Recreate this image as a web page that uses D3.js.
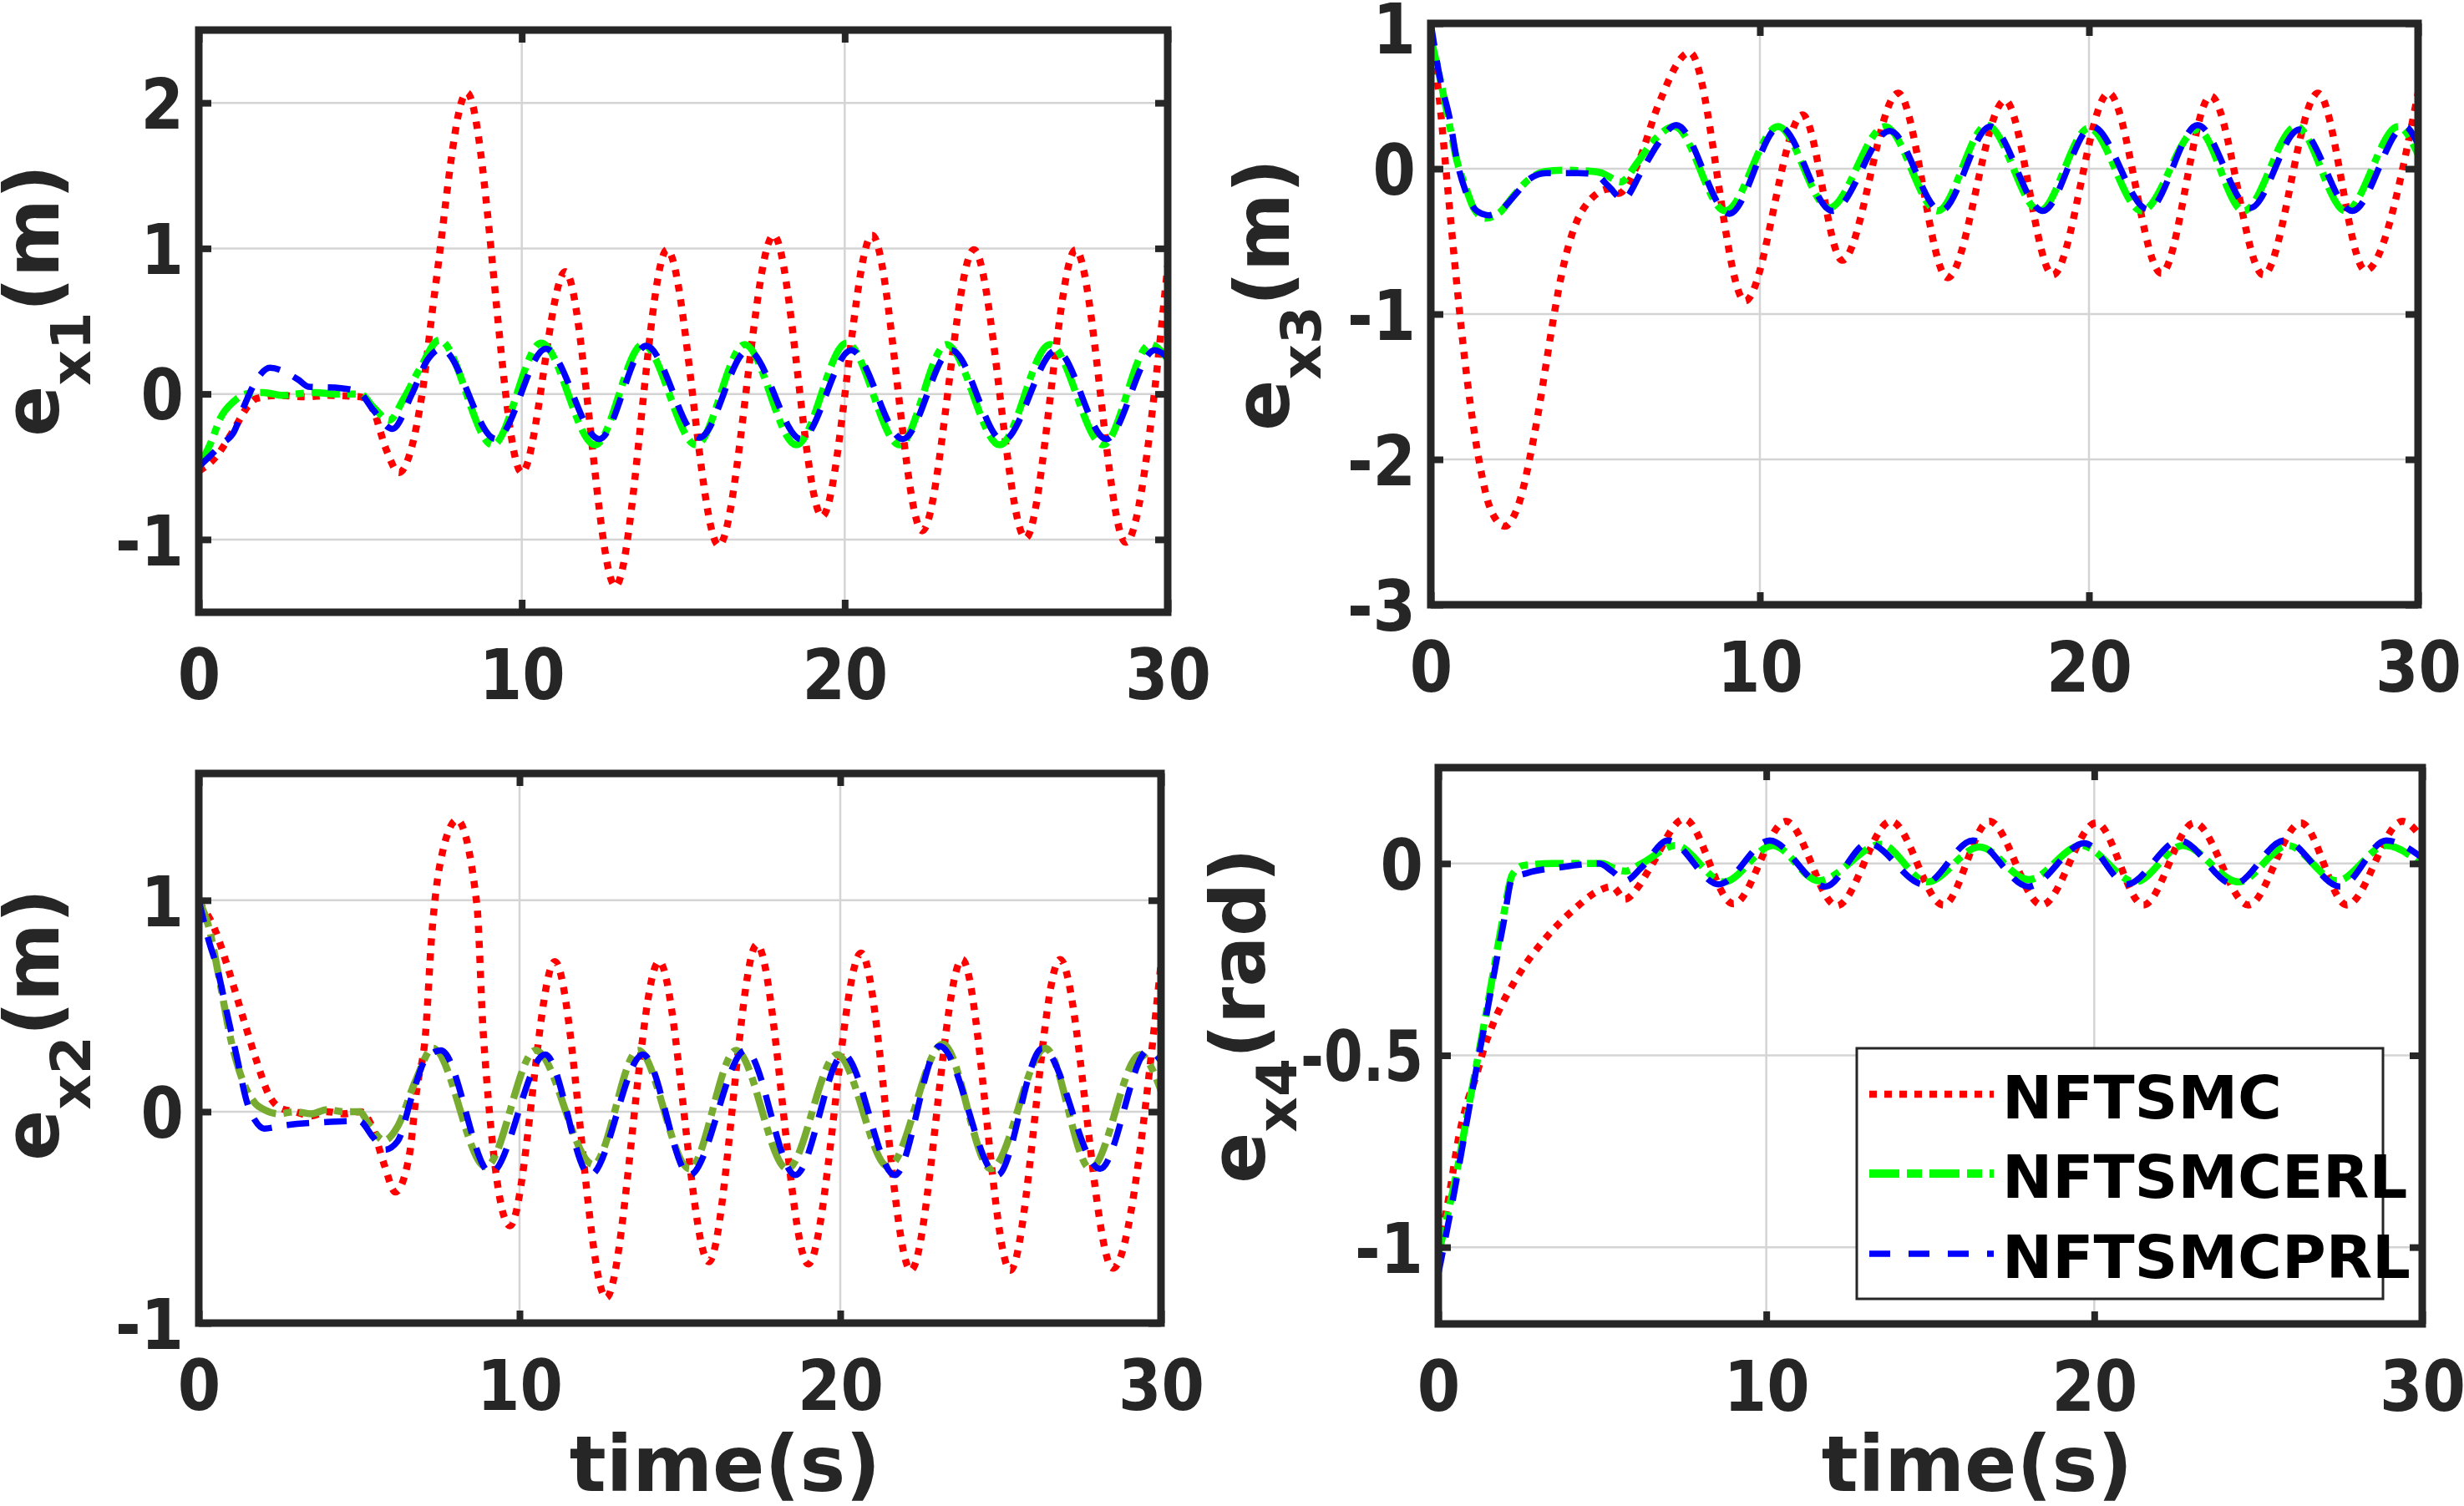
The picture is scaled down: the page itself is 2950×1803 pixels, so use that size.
<!DOCTYPE html>
<html>
<head>
<meta charset="utf-8">
<script src="https://cdn.jsdelivr.net/npm/d3@7"></script>
<style>
  body { margin: 0; background: #fff; }
  text { font-family: "DejaVu Sans", sans-serif; font-weight: bold; }
</style>
</head>
<body>
<svg id="fig" width="2950" height="1803"></svg>
<script>
// ---- data: [time (s), error] ----
const timeTicks = [0, 10, 20, 30];
const seriesNames = ['NFTSMC', 'NFTSMCERL', 'NFTSMCPRL'];

// e_x1 (m)
const ex1Nftsmc = [[0,-0.53],[0.5,-0.44],[1.1,-0.24],[1.5,-0.09],[1.8,-0.03],[2.5,-0.01],[3.3,-0.02],[4.0,-0.01],[5.0,-0.02],[5.4,-0.11],[5.8,-0.38],[6.2,-0.54],[6.6,-0.36],[6.9,-0.02],[7.3,0.69],[8.3,2.07],[10.0,-0.54],[11.35,0.84],[12.9,-1.32],[14.5,0.99],[16.1,-1.04],[17.8,1.09],[19.3,-0.84],[20.85,1.09],[22.4,-0.94],[24.0,0.99],[25.6,-0.99],[27.15,0.99],[28.7,-1.02],[30,0.88]];
const ex1Erl = [[0,-0.5],[0.4,-0.32],[0.66,-0.17],[1.09,-0.05],[1.45,0.0],[2.0,0.01],[2.6,-0.01],[3.0,0.0],[3.6,0.01],[4.2,0.0],[5.0,0.0],[5.4,-0.09],[5.9,-0.18],[6.35,-0.03],[6.86,0.18],[7.45,0.37],[9.1,-0.35],[10.6,0.35],[12.27,-0.35],[13.75,0.34],[15.4,-0.35],[16.9,0.34],[18.5,-0.35],[20.06,0.35],[21.7,-0.35],[23.15,0.34],[24.8,-0.35],[26.35,0.34],[28.0,-0.35],[29.46,0.34],[30,0.24]];
const ex1Prl = [[0,-0.5],[0.74,-0.34],[1.09,-0.26],[1.39,-0.09],[1.86,0.12],[2.2,0.18],[3.07,0.1],[3.4,0.05],[4.4,0.04],[4.97,0.01],[5.4,-0.11],[6.0,-0.24],[6.6,0.0],[7.1,0.24],[7.5,0.31],[9.2,-0.31],[10.75,0.31],[12.4,-0.31],[13.85,0.33],[15.5,-0.3],[17.0,0.3],[18.65,-0.31],[20.2,0.3],[21.8,-0.31],[23.3,0.3],[24.9,-0.32],[26.55,0.3],[28.1,-0.31],[29.6,0.3],[30,0.25]];

// e_x3 (m)
const ex3Nftsmc = [[0,0.9],[0.25,0.5],[0.5,-0.1],[0.75,-0.7],[1.0,-1.25],[1.25,-1.7],[1.5,-2.05],[1.75,-2.3],[2.0,-2.42],[2.25,-2.46],[2.5,-2.4],[2.75,-2.25],[3.0,-2.0],[3.25,-1.7],[3.5,-1.35],[3.75,-1.0],[4.0,-0.7],[4.25,-0.48],[4.5,-0.33],[4.75,-0.24],[5.0,-0.18],[5.4,-0.14],[5.7,-0.17],[6.3,0.04],[6.9,0.43],[7.87,0.8],[9.55,-0.91],[11.3,0.37],[12.5,-0.63],[14.2,0.52],[15.7,-0.75],[17.45,0.47],[18.9,-0.73],[20.6,0.52],[22.2,-0.72],[23.7,0.5],[25.3,-0.73],[26.96,0.52],[28.4,-0.7],[30,0.52]];
const ex3Erl = [[0,0.9],[0.3,0.6],[0.57,0.3],[0.8,0.05],[1.05,-0.12],[1.3,-0.27],[1.65,-0.34],[2.1,-0.3],[2.5,-0.19],[3.0,-0.07],[3.45,-0.02],[4.0,-0.01],[5.0,-0.02],[5.2,-0.03],[5.77,-0.09],[6.3,0.05],[6.8,0.2],[7.4,0.29],[8.95,-0.29],[10.55,0.29],[12.1,-0.27],[13.8,0.29],[15.4,-0.29],[16.9,0.3],[18.5,-0.29],[20.0,0.28],[21.6,-0.29],[23.3,0.27],[24.7,-0.29],[26.3,0.29],[27.8,-0.29],[29.4,0.29],[30,0.1]];
const ex3Prl = [[0,1.0],[0.3,0.6],[0.57,0.35],[0.8,0.05],[1.05,-0.15],[1.4,-0.29],[1.77,-0.32],[2.2,-0.27],[2.6,-0.17],[3.0,-0.07],[3.5,-0.03],[4.5,-0.03],[5.0,-0.04],[5.4,-0.12],[5.84,-0.21],[6.4,-0.02],[6.9,0.17],[7.46,0.3],[9.07,-0.31],[10.6,0.29],[12.2,-0.29],[13.95,0.26],[15.5,-0.29],[17.0,0.29],[18.6,-0.29],[20.1,0.29],[21.8,-0.28],[23.3,0.3],[24.9,-0.27],[26.4,0.27],[28.0,-0.29],[29.6,0.29],[30,0.17]];

// e_x2 (m)
const ex2Nftsmc = [[0,0.99],[0.48,0.87],[0.91,0.68],[1.35,0.46],[1.78,0.25],[2.2,0.075],[2.56,0.016],[3.0,0.0],[3.5,-0.02],[4.0,0.0],[4.5,-0.01],[5.04,0.0],[5.4,-0.07],[5.78,-0.25],[6.13,-0.38],[6.56,-0.21],[6.8,0.11],[7.07,0.37],[7.26,0.83],[7.52,1.17],[8.05,1.38],[8.67,0.98],[8.87,0.37],[9.7,-0.54],[11.1,0.71],[12.7,-0.88],[14.35,0.71],[15.9,-0.71],[17.4,0.79],[19.0,-0.72],[20.65,0.75],[22.2,-0.75],[23.8,0.72],[25.3,-0.75],[26.85,0.72],[28.5,-0.74],[30,0.7]];
const ex2Erl = [[0,1.0],[0.3,0.88],[0.65,0.62],[1.0,0.34],[1.35,0.155],[1.78,0.036],[2.04,0.01],[2.5,-0.01],[3.0,0.0],[3.5,-0.01],[4.0,0.01],[4.5,0.0],[5.0,0.0],[5.35,-0.07],[5.78,-0.136],[6.2,-0.07],[6.74,0.14],[7.3,0.3],[8.95,-0.26],[10.5,0.29],[12.3,-0.25],[13.7,0.29],[15.3,-0.27],[16.75,0.29],[18.35,-0.27],[19.9,0.27],[21.5,-0.26],[23.2,0.32],[24.7,-0.27],[26.4,0.3],[27.8,-0.27],[29.35,0.27],[30,0.1]];
const ex2Prl = [[0,1.0],[0.3,0.815],[0.57,0.68],[0.91,0.445],[1.17,0.27],[1.52,0.036],[1.75,-0.04],[2.04,-0.08],[2.65,-0.065],[3.87,-0.05],[5.0,-0.044],[5.43,-0.12],[5.8,-0.18],[6.2,-0.14],[6.65,0.075],[7.08,0.25],[7.55,0.29],[9.1,-0.29],[10.8,0.27],[12.2,-0.3],[13.85,0.27],[15.3,-0.3],[17.05,0.29],[18.6,-0.3],[20.1,0.27],[21.7,-0.3],[23.1,0.31],[24.9,-0.3],[26.3,0.3],[28.1,-0.27],[29.6,0.29],[30,0.24]];

// e_x4 (rad)
const ex4Nftsmc = [[0,-1.0],[0.3,-0.88],[0.63,-0.71],[0.89,-0.62],[1.15,-0.555],[1.41,-0.477],[1.66,-0.42],[2.45,-0.29],[3.22,-0.2],[4.13,-0.12],[4.91,-0.07],[5.3,-0.06],[5.69,-0.093],[6.1,-0.06],[6.47,-0.009],[7.5,0.116],[9.0,-0.105],[10.6,0.11],[12.15,-0.11],[13.8,0.11],[15.4,-0.108],[16.8,0.11],[18.4,-0.108],[20.06,0.106],[21.5,-0.108],[23.05,0.106],[24.7,-0.108],[26.3,0.106],[27.7,-0.108],[29.4,0.11],[30,0.065]];
const ex4Erl = [[0,-1.02],[0.5,-0.83],[1.0,-0.6],[1.5,-0.37],[2.0,-0.13],[2.25,-0.03],[2.6,-0.005],[3.5,0.0],[4.5,0.0],[5.0,0.0],[5.3,-0.01],[5.7,-0.02],[6.2,0.0],[7.24,0.047],[8.7,-0.048],[10.2,0.047],[11.6,-0.045],[13.5,0.05],[14.9,-0.048],[16.5,0.043],[18.0,-0.042],[19.6,0.047],[21.25,-0.048],[22.7,0.047],[24.4,-0.048],[25.9,0.047],[27.4,-0.045],[28.9,0.047],[30,-0.004]];
const ex4Prl = [[0,-1.07],[0.5,-0.85],[1.0,-0.61],[1.5,-0.38],[2.0,-0.15],[2.25,-0.04],[2.7,-0.025],[3.7,-0.01],[4.9,0.0],[5.3,-0.02],[5.7,-0.045],[6.2,-0.01],[7.0,0.06],[8.55,-0.054],[10.1,0.06],[11.8,-0.06],[13.1,0.053],[14.8,-0.054],[16.3,0.06],[18.0,-0.06],[19.7,0.053],[21.0,-0.054],[22.6,0.06],[24.25,-0.054],[25.8,0.06],[27.5,-0.06],[28.9,0.06],[30,0.015]];

// ---- styles ----
const AX = '#262626';
const styles = [
  { color: '#ff0000', width: 8.5, dash: '8.5 9.5' },       // dotted
  { color: '#00ff00', width: 8.5, dash: '34 9 10 9' },     // dash-dot
  { color: '#0000ff', width: 7.5, dash: '27 18' }          // dashed
];

const panels = [
  { box: [238, 1398, 36, 733],    ydom: [-1.5, 2.5],  yticks: [-1, 0, 1, 2],      sub: 'x1', unit: '(m)',   ylab: [70, 360],
    series: [ex1Nftsmc, ex1Erl, ex1Prl], green: '#00ff00', xlab: null },
  { box: [1713, 2895, 28, 724],   ydom: [-3, 1],      yticks: [-3, -2, -1, 0, 1], sub: 'x3', unit: '(m)',   ylab: [1543, 353],
    series: [ex3Nftsmc, ex3Erl, ex3Prl], green: '#00ff00', xlab: null },
  { box: [238, 1390, 926, 1584],  ydom: [-1, 1.6],    yticks: [-1, 0, 1],         sub: 'x2', unit: '(m)',   ylab: [70, 1227],
    series: [ex2Nftsmc, ex2Erl, ex2Prl], green: '#77ac30', xlab: 868 },
  { box: [1722, 2900, 919, 1585], ydom: [-1.2, 0.25], yticks: [-1, -0.5, 0],      sub: 'x4', unit: '(rad)', ylab: [1514, 1216],
    series: [ex4Nftsmc, ex4Erl, ex4Prl], green: '#00ff00', xlab: 2367, legend: true }
];

const svg = d3.select('#fig');
const fmt = d => String(d);

panels.forEach((p, i) => {
  const [x0, x1, y0, y1] = p.box;
  const x = d3.scaleLinear().domain([0, 30]).range([x0, x1]);
  const y = d3.scaleLinear().domain(p.ydom).range([y1, y0]);

  svg.append('defs').append('clipPath').attr('id', 'clip' + i)
    .append('rect').attr('x', x0).attr('y', y0).attr('width', x1 - x0).attr('height', y1 - y0);

  // grid
  const g = svg.append('g');
  g.selectAll('line.gx').data(timeTicks).join('line')
    .attr('class', 'gx')
    .attr('x1', d => x(d)).attr('x2', d => x(d)).attr('y1', y0).attr('y2', y1)
    .attr('stroke', '#d4d4d4').attr('stroke-width', 2.5);
  g.selectAll('line.gy').data(p.yticks).join('line')
    .attr('class', 'gy')
    .attr('x1', x0).attr('x2', x1).attr('y1', d => y(d)).attr('y2', d => y(d))
    .attr('stroke', '#d4d4d4').attr('stroke-width', 2.5);

  // curves
  const line = d3.line().x(d => x(d[0])).y(d => y(d[1])).curve(d3.curveMonotoneX);
  const lg = svg.append('g').attr('clip-path', `url(#clip${i})`);
  p.series.forEach((s, k) => {
    const st = styles[k];
    lg.append('path').datum(s)
      .attr('d', line)
      .attr('fill', 'none')
      .attr('stroke', k === 1 ? p.green : st.color)
      .attr('stroke-width', st.width)
      .attr('stroke-dasharray', st.dash)
      .attr('stroke-linejoin', 'round');
  });

  // axes (ticks point inward, box on)
  const tick = 15;
  const xb = svg.append('g').attr('transform', `translate(0,${y1})`)
    .call(d3.axisBottom(x).tickValues(timeTicks).tickSize(-tick).tickFormat(fmt));
  const xt = svg.append('g').attr('transform', `translate(0,${y0})`)
    .call(d3.axisTop(x).tickValues(timeTicks).tickSize(-tick).tickFormat(''));
  const yl = svg.append('g').attr('transform', `translate(${x0},0)`)
    .call(d3.axisLeft(y).tickValues(p.yticks).tickSize(-tick).tickFormat(fmt));
  const yr = svg.append('g').attr('transform', `translate(${x1},0)`)
    .call(d3.axisRight(y).tickValues(p.yticks).tickSize(-tick).tickFormat(''));

  [xb, xt, yl, yr].forEach(a => {
    a.select('.domain').remove();
    a.selectAll('.tick line').attr('stroke', AX).attr('stroke-width', 8);
  });

  xb.selectAll('.tick text')
    .attr('y', 0).attr('dy', 0)
    .attr('transform', 'translate(0,104) scale(0.88,1)')
    .attr('font-size', 84).attr('fill', AX)
    .attr('font-family', '"DejaVu Sans", sans-serif').attr('font-weight', 'bold');
  yl.selectAll('.tick text')
    .attr('x', 0).attr('dy', '0.36em')
    .attr('transform', d => {
      const shift = Math.max(0, 33 - y(d));           // keep top label inside the figure
      const sx = String(d).includes('.') ? 0.8 : 0.88;
      return `translate(-18,${shift}) scale(${sx},1)`;
    })
    .attr('font-size', 84).attr('fill', AX)
    .attr('font-family', '"DejaVu Sans", sans-serif').attr('font-weight', 'bold');

  // box
  svg.append('rect')
    .attr('x', x0).attr('y', y0).attr('width', x1 - x0).attr('height', y1 - y0)
    .attr('fill', 'none').attr('stroke', AX).attr('stroke-width', 9);

  // y label
  const t = svg.append('text')
    .attr('transform', `translate(${p.ylab[0]},${p.ylab[1]}) rotate(-90)`)
    .attr('text-anchor', 'middle').attr('font-size', 90).attr('fill', AX);
  t.append('tspan').text('e');
  t.append('tspan').attr('font-size', 66).attr('dy', 38).text(p.sub);
  t.append('tspan').attr('dy', -38).text(p.unit);

  // x label
  if (p.xlab) {
    svg.append('text').attr('x', p.xlab).attr('y', 1785)
      .attr('text-anchor', 'middle').attr('font-size', 92).attr('fill', AX)
      .text('time(s)');
  }

  // legend
  if (p.legend) {
    const lx = 2223, ly = 1255, lw = 630, lh = 300;
    const leg = svg.append('g');
    leg.append('rect').attr('x', lx).attr('y', ly).attr('width', lw).attr('height', lh)
      .attr('fill', '#fff').attr('stroke', AX).attr('stroke-width', 3);
    const rowY = [1310, 1405, 1501];
    const legW = [8.5, 10, 7.5];
    const legDash = ['9 9', '36 9 18 9', '25 22'];
    seriesNames.forEach((name, k) => {
      leg.append('line')
        .attr('x1', 2238).attr('x2', 2387).attr('y1', rowY[k]).attr('y2', rowY[k])
        .attr('stroke', styles[k].color).attr('stroke-width', legW[k])
        .attr('stroke-dasharray', legDash[k]);
      leg.append('text')
        .attr('x', 2397).attr('y', rowY[k] + 29)
        .attr('font-size', 72).attr('fill', '#000')
        .text(name);
    });
  }
});
</script>
</body>
</html>
